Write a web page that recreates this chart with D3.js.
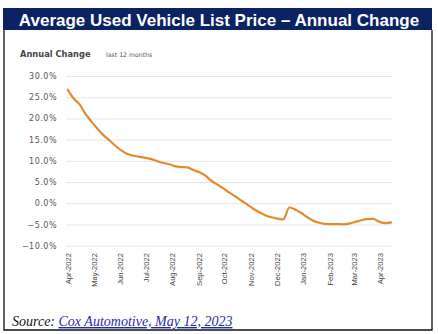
<!DOCTYPE html>
<html>
<head>
<meta charset="utf-8">
<script src="https://cdn.jsdelivr.net/npm/d3@7"></script>
<style>
  html, body { margin: 0; padding: 0; background: #fff; }
  svg { display: block; }
</style>
</head>
<body>
<svg id="chart" width="438" height="334"></svg>
<script>
// Weekly observations of the year-over-year change in average used vehicle list price
const weekDates = [
  "2022-04-01","2022-04-08","2022-04-15","2022-04-22","2022-04-29",
  "2022-05-06","2022-05-13","2022-05-20","2022-05-27",
  "2022-06-03","2022-06-10","2022-06-17","2022-06-24",
  "2022-07-01","2022-07-08","2022-07-15","2022-07-22","2022-07-29",
  "2022-08-05","2022-08-12","2022-08-19","2022-08-26",
  "2022-09-02","2022-09-09","2022-09-16","2022-09-23","2022-09-30",
  "2022-10-07","2022-10-14","2022-10-21","2022-10-28",
  "2022-11-04","2022-11-11","2022-11-18","2022-11-25",
  "2022-12-02","2022-12-09","2022-12-16","2022-12-23","2022-12-30",
  "2023-01-06","2023-01-13","2023-01-20","2023-01-27",
  "2023-02-03","2023-02-10","2023-02-17","2023-02-24",
  "2023-03-03","2023-03-10","2023-03-17","2023-03-24","2023-03-31",
  "2023-04-07","2023-04-14"
];
const annualChange = [
  26.8, 24.7, 23.3, 21.0, 19.2,
  17.5, 16.0, 14.8, 13.5,
  12.4, 11.6, 11.2, 10.95,
  10.7, 10.4, 9.9, 9.5, 9.2,
  8.7, 8.55, 8.45, 7.85,
  7.3, 6.5, 5.3, 4.4, 3.5,
  2.5, 1.6, 0.6, -0.3,
  -1.3, -2.1, -2.8, -3.3,
  -3.6, -3.8, -1.0, -1.5, -2.3,
  -3.3, -4.1, -4.6, -4.85,
  -4.9, -4.9, -4.95, -4.8,
  -4.4, -4.0, -3.75, -3.7, -4.35,
  -4.7, -4.5
];
const yTicks = [30, 25, 20, 15, 10, 5, 0, -5, -10];
const monthTicks = [
  "2022-04-01","2022-05-01","2022-06-01","2022-07-01","2022-08-01","2022-09-01",
  "2022-10-01","2022-11-01","2022-12-01","2023-01-01","2023-02-01","2023-03-01","2023-04-01"
];

const parse = d3.utcParse("%Y-%m-%d");
const points = weekDates.map((d, i) => ({ date: parse(d), value: annualChange[i] }));

const svg = d3.select("#chart");

// Title banner
svg.append("rect")
  .attr("x", 3).attr("y", 8).attr("width", 429).attr("height", 22)
  .attr("fill", "#0b2263");
svg.append("text")
  .attr("x", 219).attr("y", 25.5)
  .attr("text-anchor", "middle")
  .attr("font-family", "'Liberation Sans', Arial, sans-serif")
  .attr("font-weight", "bold")
  .attr("font-size", 17)
  .attr("fill", "#fff")
  .text("Average Used Vehicle List Price \u2013 Annual Change");

// Frame below the banner
svg.append("path")
  .attr("d", "M4,30 V330 H432 V30")
  .attr("fill", "none")
  .attr("stroke", "#111")
  .attr("stroke-width", 1.3);

// Chart heading
svg.append("text")
  .attr("x", 20).attr("y", 57)
  .attr("font-family", "'DejaVu Sans', sans-serif")
  .attr("font-weight", "bold")
  .attr("font-size", 8.3)
  .attr("fill", "#444")
  .text("Annual Change");
svg.append("text")
  .attr("x", 106).attr("y", 57)
  .attr("font-family", "'DejaVu Sans', sans-serif")
  .attr("font-size", 6.2)
  .attr("fill", "#555")
  .text("last 12 months");

// Scales
const x = d3.scaleUtc()
  .domain([parse("2022-04-01"), parse("2023-04-01")])
  .range([67.7, 380]);
const y = d3.scaleLinear().domain([-10, 30]).range([245.7, 76]);

// Horizontal gridlines and percentage labels
const yAxis = d3.axisLeft(y)
  .tickValues(yTicks)
  .tickSize(-(392 - 66))
  .tickPadding(9)
  .tickFormat(d => d3.format(".1f")(d) + "%");
const gy = svg.append("g").attr("transform", "translate(66,0)").call(yAxis);
gy.select(".domain").remove();
gy.selectAll(".tick line").attr("stroke", "#e6e6e6").attr("stroke-width", 1);
gy.selectAll(".tick text")
  .attr("font-family", "'DejaVu Sans', sans-serif")
  .attr("font-size", 8)
  .attr("letter-spacing", 0.5)
  .attr("fill", "#555");

// Month labels, rotated
const xAxis = d3.axisBottom(x)
  .tickValues(monthTicks.map(parse))
  .tickSize(0)
  .tickFormat(d3.utcFormat("%b-%Y"));
const gx = svg.append("g").attr("transform", "translate(0,250)").call(xAxis);
gx.select(".domain").remove();
gx.selectAll(".tick text")
  .attr("transform", "rotate(-90)")
  .attr("text-anchor", "end")
  .attr("x", -3).attr("y", 0).attr("dy", "0.35em")
  .attr("font-family", "'Liberation Sans', Arial, sans-serif")
  .attr("font-size", 7.6)
  .attr("fill", "#444");

// Data line
const line = d3.line()
  .x(d => x(d.date))
  .y(d => y(d.value))
  .curve(d3.curveMonotoneX);
svg.append("path")
  .datum(points)
  .attr("d", line)
  .attr("fill", "none")
  .attr("stroke", "#e38b2c")
  .attr("stroke-width", 2.2)
  .attr("stroke-linejoin", "round")
  .attr("stroke-linecap", "round");

// Source note
const src = svg.append("text")
  .attr("x", 12).attr("y", 326)
  .attr("font-family", "'Liberation Serif', 'Times New Roman', serif")
  .attr("font-style", "italic")
  .attr("font-size", 14)
  .attr("fill", "#111");
src.append("tspan").text("Source: ");
src.append("tspan")
  .attr("fill", "#1f2aa8")
  .attr("text-decoration", "underline")
  .text("Cox Automotive, May 12, 2023");
</script>
</body>
</html>
